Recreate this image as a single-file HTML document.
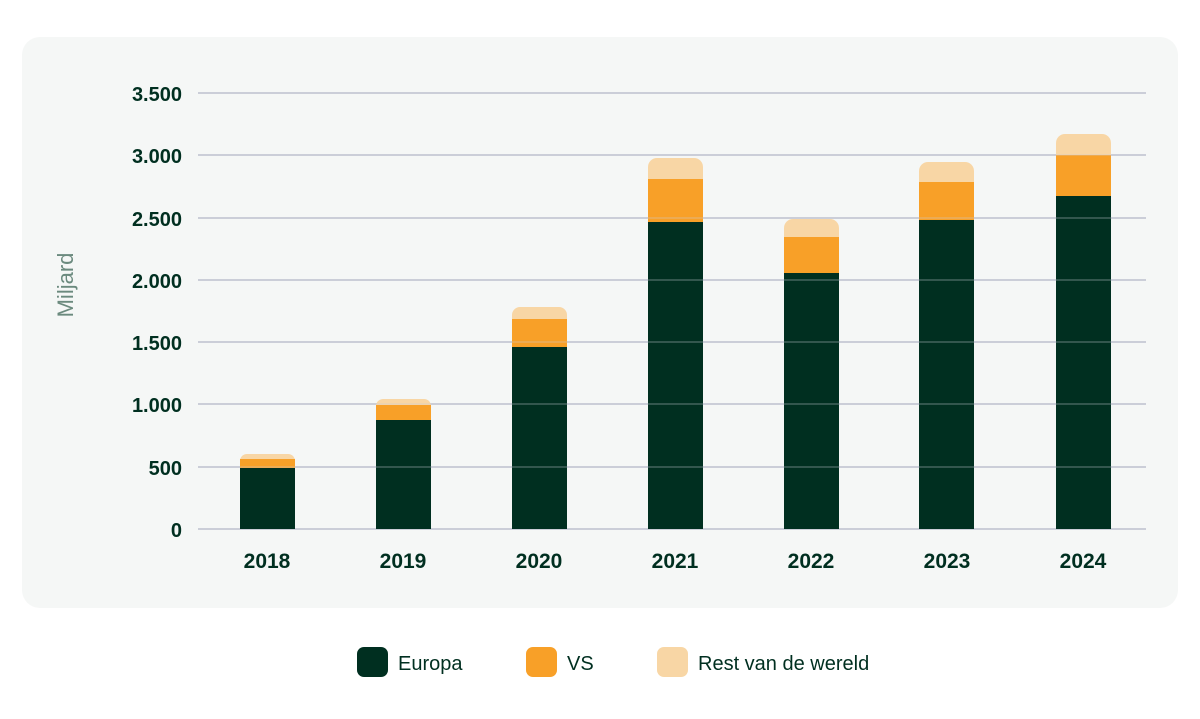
<!DOCTYPE html>
<html><head><meta charset="utf-8"><style>
body{margin:0;background:#fff;width:1200px;height:714px;overflow:hidden;font-family:"Liberation Sans",sans-serif}
</style></head><body>
<svg width="1200" height="714" xmlns="http://www.w3.org/2000/svg" font-family="Liberation Sans, sans-serif">
<rect x="22" y="37" width="1156" height="571" rx="18" fill="#f5f7f6"/>
<g id="grid" stroke="#cbced8" stroke-width="2">
<line x1="198" x2="1146" y1="93" y2="93"/><line x1="198" x2="1146" y1="155" y2="155"/>
<line x1="198" x2="1146" y1="218" y2="218"/><line x1="198" x2="1146" y1="280" y2="280"/>
<line x1="198" x2="1146" y1="342" y2="342"/><line x1="198" x2="1146" y1="404" y2="404"/>
<line x1="198" x2="1146" y1="467" y2="467"/><line x1="198" x2="1146" y1="529" y2="529"/>
</g>
<g>
<g fill="#f8d6a5">
<rect x="240" y="454" width="55" height="20" rx="7"/>
<rect x="376" y="399" width="55" height="20" rx="7"/>
<rect x="512" y="307" width="55" height="30" rx="8"/>
<rect x="648" y="158" width="55" height="40" rx="9"/>
<rect x="784" y="219" width="55" height="40" rx="9"/>
<rect x="919" y="162" width="55" height="40" rx="9"/>
<rect x="1056" y="134" width="55" height="40" rx="9"/>
</g>
<g fill="#f8a028">
<rect x="240" y="459" width="55" height="9"/>
<rect x="376" y="405" width="55" height="15"/>
<rect x="512" y="319" width="55" height="28"/>
<rect x="648" y="179" width="55" height="43"/>
<rect x="784" y="237" width="55" height="36"/>
<rect x="919" y="182" width="55" height="38"/>
<rect x="1056" y="155" width="55" height="41"/>
</g>
<g fill="#002f20">
<rect x="240" y="468" width="55" height="61"/>
<rect x="376" y="420" width="55" height="109"/>
<rect x="512" y="347" width="55" height="182"/>
<rect x="648" y="222" width="55" height="307"/>
<rect x="784" y="273" width="55" height="256"/>
<rect x="919" y="220" width="55" height="309"/>
<rect x="1056" y="196" width="55" height="333"/>
</g>
</g>
<g stroke="#cbced8" stroke-width="2" opacity="0.25">
<line x1="198" x2="1146" y1="155" y2="155"/><line x1="198" x2="1146" y1="218" y2="218"/>
<line x1="198" x2="1146" y1="280" y2="280"/><line x1="198" x2="1146" y1="342" y2="342"/>
<line x1="198" x2="1146" y1="404" y2="404"/><line x1="198" x2="1146" y1="467" y2="467"/>
</g>
<g fill="#002f20" font-size="20" font-weight="bold" text-anchor="end">
<text x="182" y="101">3.500</text><text x="182" y="163">3.000</text>
<text x="182" y="226">2.500</text><text x="182" y="288">2.000</text>
<text x="182" y="350">1.500</text><text x="182" y="412">1.000</text>
<text x="182" y="475">500</text><text x="182" y="537">0</text>
</g>
<g fill="#002f20" font-size="21" font-weight="bold" text-anchor="middle">
<text x="267" y="568">2018</text><text x="403" y="568">2019</text><text x="539" y="568">2020</text>
<text x="675" y="568">2021</text><text x="811" y="568">2022</text><text x="947" y="568">2023</text><text x="1083" y="568">2024</text>
</g>
<text transform="translate(73,285) rotate(-90)" text-anchor="middle" font-size="22" fill="#6b8a7e">Miljard</text>
<rect x="357" y="647" width="31" height="30" rx="7" fill="#002f20"/>
<text x="398" y="670" font-size="20" fill="#002f20">Europa</text>
<rect x="526" y="647" width="31" height="30" rx="7" fill="#f8a028"/>
<text x="567" y="670" font-size="20" fill="#002f20">VS</text>
<rect x="657" y="647" width="31" height="30" rx="7" fill="#f8d6a5"/>
<text x="698" y="670" font-size="20" fill="#002f20">Rest van de wereld</text>
</svg>
</body></html>
